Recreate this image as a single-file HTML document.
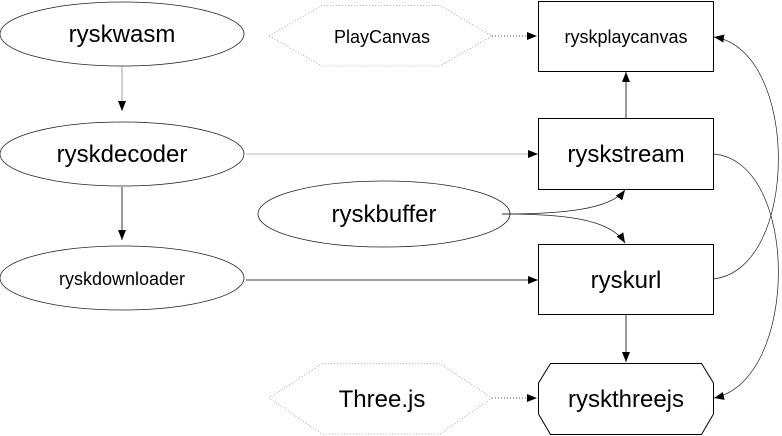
<!DOCTYPE html>
<html><head><style>body{margin:0;background:#fff}svg{display:block}</style></head><body>
<svg width="782" height="436" viewBox="0 0 782 436" xmlns="http://www.w3.org/2000/svg" font-family="Liberation Sans, sans-serif">
<defs>
<marker id="a" markerWidth="10" markerHeight="8" refX="10" refY="4" orient="auto" markerUnits="userSpaceOnUse"><path d="M0,0L10,4L0,8z" fill="#000"/></marker>
</defs>
<g fill="none" stroke="#222" stroke-width="0.8">
<ellipse cx="122" cy="34" rx="122" ry="32"/>
<ellipse cx="122" cy="154" rx="122" ry="32"/>
<ellipse cx="122" cy="278" rx="122" ry="32"/>
<ellipse cx="384" cy="214" rx="126" ry="33"/>
<rect x="538.5" y="1.5" width="175" height="70" stroke="#000" stroke-width="1"/>
<rect x="538.5" y="118.5" width="175" height="71" stroke="#000" stroke-width="1"/>
<rect x="538.5" y="244.5" width="175" height="70" stroke="#000" stroke-width="1"/>
<path d="M550.5,363.5H701.5L713.5,383V414L701.5,434.5H550.5L538.5,414V383Z" stroke="#000" stroke-width="1"/>
<path d="M269,36L322,5.5H440L492,36L440,66H322Z" stroke="#999" stroke-dasharray="1,2"/>
<path d="M269,398L322,363.5H440L492,398L440,434H322Z" stroke="#999" stroke-dasharray="1,2"/>
<path d="M122,66V111" stroke="#888" marker-end="url(#a)"/>
<path d="M246,154H538" stroke="#aaa" marker-end="url(#a)"/>
<path d="M122,187V240" stroke="#000" marker-end="url(#a)"/>
<path d="M246,280H538" stroke="#000" marker-end="url(#a)"/>
<path d="M492,36H537" stroke-dasharray="1,2" marker-end="url(#a)"/>
<path d="M492,398H537" stroke-dasharray="1,2" marker-end="url(#a)"/>
<path d="M626,118V72" stroke="#000" marker-end="url(#a)"/>
<path d="M626,314V362" stroke="#000" marker-end="url(#a)"/>
<path d="M502,214C560,214 610,210 625,190" marker-end="url(#a)"/>
<path d="M502,214C560,214 610,218 625,243" marker-end="url(#a)"/>
<path d="M713,154C800,160 800,380 714,398" stroke-width="0.7" marker-end="url(#a)"/>
<path d="M713,279C800,270 800,50 714,37" stroke-width="0.7" marker-end="url(#a)"/>
</g>
<g font-size="24" text-anchor="middle" fill="#000">
<text x="122" y="42">ryskwasm</text>
<text x="122" y="162">ryskdecoder</text>
<text x="122" y="285" font-size="18">ryskdownloader</text>
<text x="384" y="222">ryskbuffer</text>
<text x="626" y="43" font-size="18">ryskplaycanvas</text>
<text x="626" y="162">ryskstream</text>
<text x="626" y="288">ryskurl</text>
<text x="626" y="407">ryskthreejs</text>
<text x="382" y="43" font-size="18">PlayCanvas</text>
<text x="382" y="407">Three.js</text>
</g>
</svg>
</body></html>
